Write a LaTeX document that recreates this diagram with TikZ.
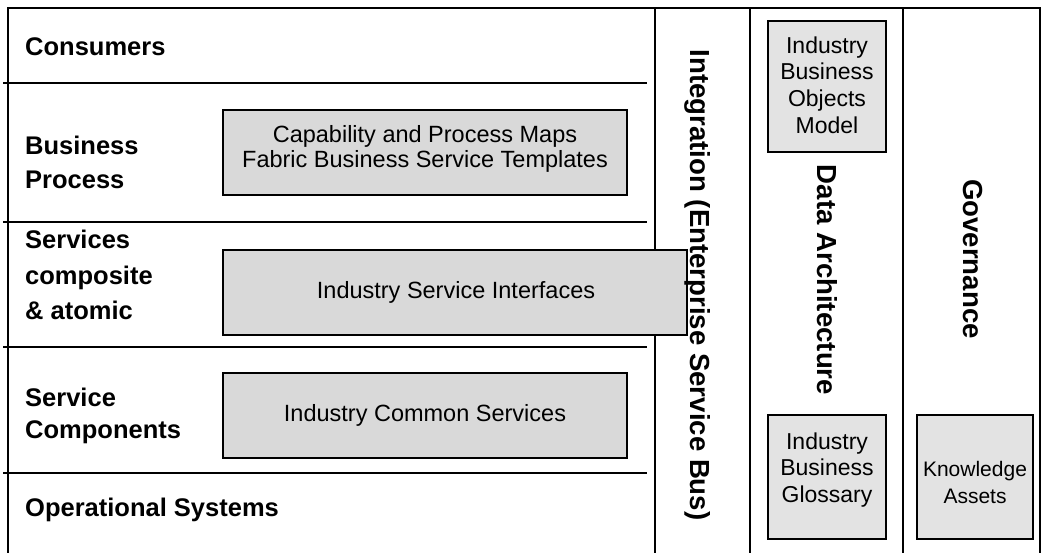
\documentclass[tikz,border=0pt]{standalone}
\usepackage{fontspec}
\setmainfont{Liberation Sans}
\definecolor{dotgray}{HTML}{D9D9D9}
\definecolor{plaingray}{HTML}{E3E3E3}
\begin{document}
\begin{tikzpicture}[x=1pt,y=-1pt,
  frameline/.style={line width=1.8pt},
  layerline/.style={line width=1.4pt},
  dotbox/.style={draw, line width=1.3pt, fill=dotgray, inner sep=0pt},
  plainbox/.style={draw, line width=1.3pt, fill=plaingray, inner sep=0pt},
  boxtext/.style={inner sep=0pt, align=center, font=\fontsize{23.5}{25}\selectfont},
  coltext/.style={inner sep=0pt, align=center, font=\fontsize{23}{26.8}\selectfont},
  layerlabel/.style={anchor=west, align=left, inner sep=0pt, font=\fontsize{25.5}{34}\selectfont\bfseries},
  columnlabel/.style={rotate=-90, inner sep=0pt, font=\fontsize{27.6}{30}\selectfont\bfseries}
]
\useasboundingbox (0,0) rectangle (1047,553);
% outer frame and columns
\draw[frameline] (8,553) -- (8,8) -- (1040,8) -- (1040,553);
\draw[frameline] (655,8) -- (655,553);
\draw[frameline] (750,8) -- (750,553);
\draw[frameline] (903,8) -- (903,553);
% layer separators
\foreach \yy in {83,222,347,473} {
  \draw[layerline] (3,\yy) -- (647,\yy);
}
% layer labels
\node[layerlabel] (consumers) at (25,47) {Consumers};
\node[layerlabel] (bp) at (25,162.5) {Business\\Process};
\node[layerlabel, font=\fontsize{25.5}{35.5}\selectfont\bfseries] (svc) at (25,275) {Services\\composite\\\& atomic};
\node[layerlabel, font=\fontsize{25.5}{32}\selectfont\bfseries] (comp) at (25,416) {Service\\Components};
\node[layerlabel] (ops) at (25,510) {Operational Systems};
% boxes in layers
\node[dotbox, minimum width=404pt, minimum height=85pt] (cap) at (425,152.5) {};
\node[boxtext] (captext) at ([yshift=4pt]cap.center)
  {Capability and Process Maps\\Fabric Business Service Templates};
\node[dotbox, minimum width=464pt, minimum height=85pt] (isi) at (455,292.5) {};
\node[boxtext] (isitext) at ([xshift=1pt]isi.center) {Industry Service Interfaces};
\node[dotbox, minimum width=404pt, minimum height=85pt] (ics) at (425,415.5) {};
\node[boxtext] (icstext) at (ics.center) {Industry Common Services};
% column labels
\node[columnlabel] (esb) at (698,285) {Integration (Enterprise Service Bus)};
\node[columnlabel] (data) at (827,280) {Data Architecture};
\node[columnlabel] (gov) at (973,259) {Governance};
% column boxes
\node[plainbox, minimum width=118pt, minimum height=131pt] (ibom) at (827,86.5) {};
\node[coltext] (ibomtext) at ([yshift=1.5pt]ibom.center) {Industry\\Business\\Objects\\Model};
\node[plainbox, minimum width=118pt, minimum height=124pt] (ibg) at (827,477) {};
\node[coltext] (ibgtext) at ([yshift=7pt]ibg.center) {Industry\\Business\\Glossary};
\node[plainbox, minimum width=116pt, minimum height=124pt] (ka) at (975,477) {};
\node[coltext, font=\fontsize{21}{27}\selectfont] (katext) at ([yshift=-5pt]ka.center) {Knowledge\\Assets};
\end{tikzpicture}
\end{document}
